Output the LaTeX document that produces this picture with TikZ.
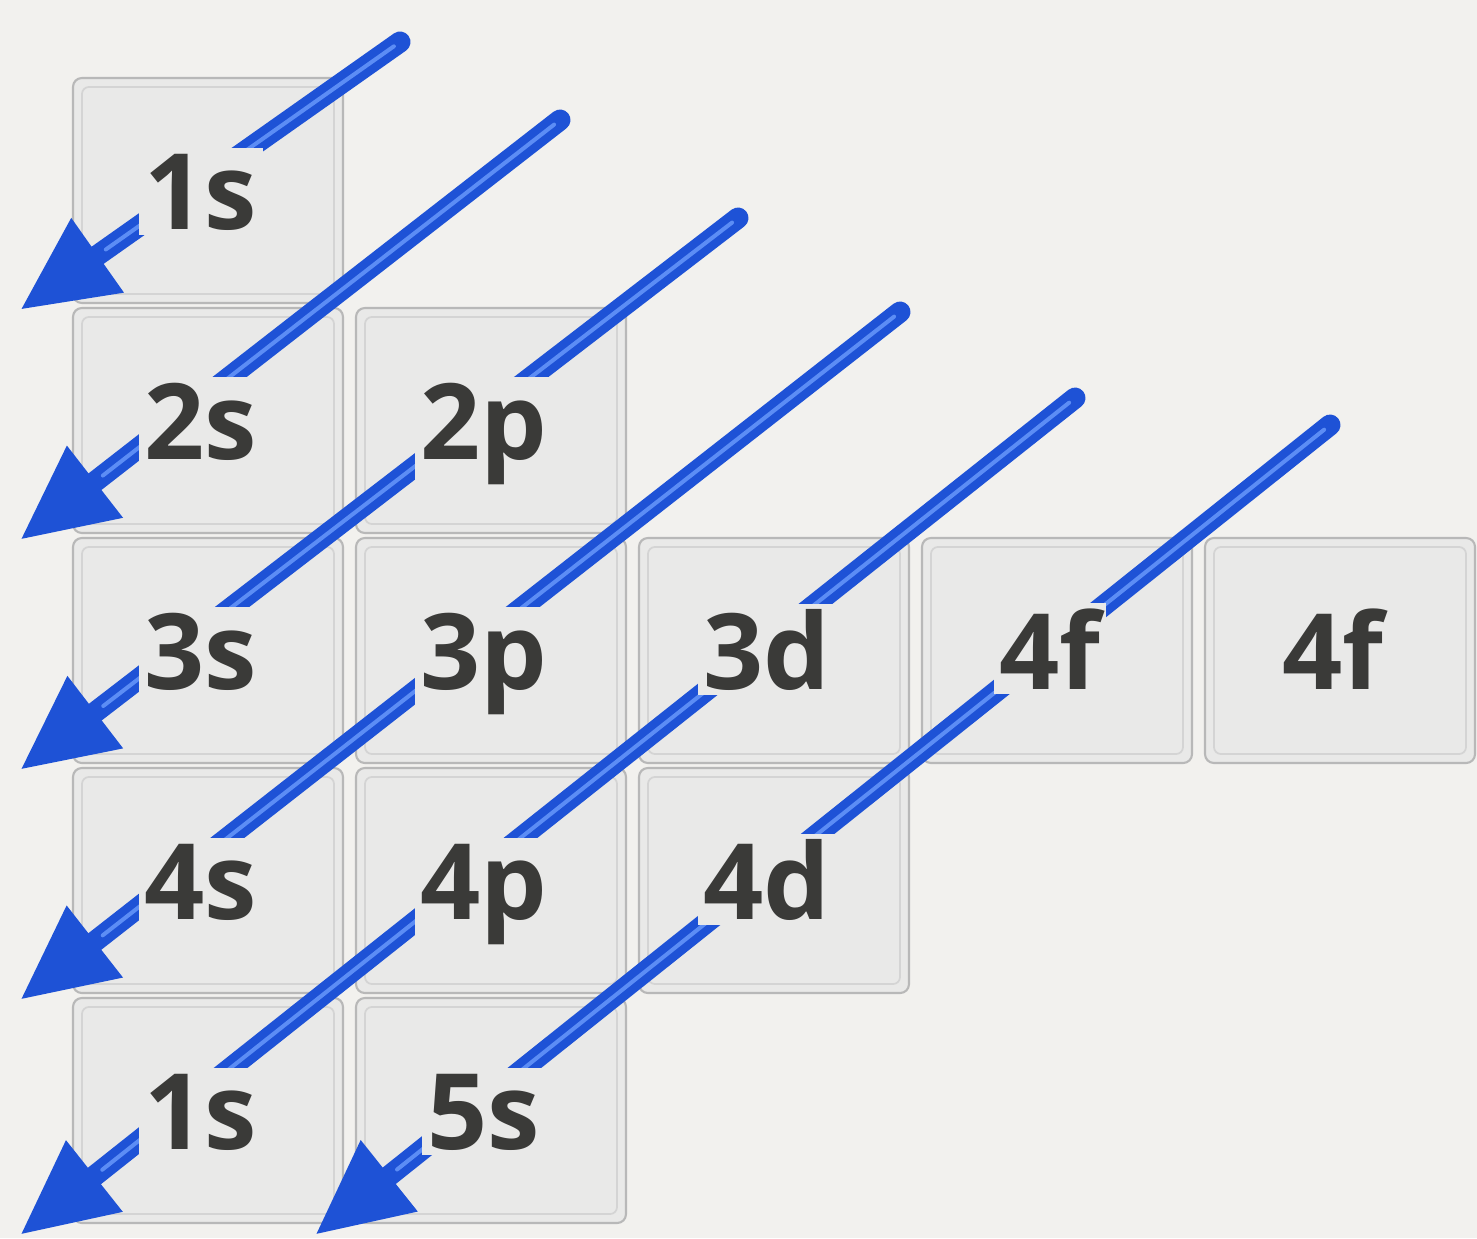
\documentclass[tikz,border=0pt]{standalone}
\usepackage{fontspec}
\setsansfont{Open Sans}
\usetikzlibrary{arrows.meta,calc}
\definecolor{bg}{HTML}{F2F1EE}
\definecolor{tilefill}{HTML}{E9E9E8}
\definecolor{tileedge}{HTML}{B8B8B8}
\definecolor{tileinner}{HTML}{D4D4D4}
\definecolor{arrowblue}{HTML}{1E52D6}
\definecolor{arrowlight}{HTML}{5C8DF5}
\definecolor{labeltext}{HTML}{3A3A38}
\begin{document}
\begin{tikzpicture}[x=0.02cm,y=-0.02cm,
  tile/.style={draw=tileedge, line width=1.2pt, fill=tilefill, rounded corners=5pt,
    minimum width=5.4cm, minimum height=4.5cm, inner sep=0pt},
  tileglass/.style={draw=tileinner, line width=1pt, rounded corners=4pt},
  orb/.style={font=\sffamily\bfseries\fontsize{60}{60}\selectfont, text=labeltext,
    fill=tilefill, inner sep=3pt, anchor=base},
  shaft/.style={draw=arrowblue, line width=0.42cm, line cap=round,
    -{Triangle[length=1.9cm,width=1.7cm]}},
  shine/.style={draw=arrowlight, line width=0.08cm, line cap=round}
]
\fill[bg] (0,0) rectangle (1477,1238);
\useasboundingbox (0,0) rectangle (1477,1238);

% tiles
\foreach \c/\r in {1/1,1/2,2/2,1/3,2/3,3/3,4/3,5/3,1/4,2/4,3/4,1/5,2/5}{
  \node[tile] (tile\c\r) at ({73+283*(\c-1)+135},{78+230*(\r-1)+112.5}) {};
  \draw[tileglass] ($(tile\c\r.south west)+(10,-10)$) rectangle ($(tile\c\r.north east)+(-10,10)$);
}

% arrow end points
\foreach \n/\sx/\sy/\ex/\ey in {1/400/42/20/310, 2/560/120/20/540, 3/738/218/20/770,
  4/900/312/20/1000, 5/1075/398/20/1235, 6/1330/425/315/1235}{
  \coordinate (tail\n) at (\sx,\sy);
  \coordinate (tip\n) at (\ex,\ey);
}

% arrows
\foreach \n in {1,...,6}{
  \draw[shaft] (tail\n) -- (tip\n);
  \draw[shine, shift={(-0.06cm,0.08cm)}] ($(tail\n)!0.15cm!(tip\n)$) -- ($(tip\n)!2.1cm!(tail\n)$);
}

% labels
\foreach \name/\c/\r/\t in {la/1/1/1s, lb/1/2/2s, lc/2/2/2p, ld/1/3/3s, le/2/3/3p, lf/3/3/3d,
  lg/4/3/4f, lh/5/3/4f, li/1/4/4s, lj/2/4/4p, lk/3/4/4d, ll/1/5/1s, lm/2/5/5s}{
  \node[orb] (\name) at ({73+283*(\c-1)+128},{78+230*(\r-1)+151}) {\t};
}
\end{tikzpicture}
\end{document}
